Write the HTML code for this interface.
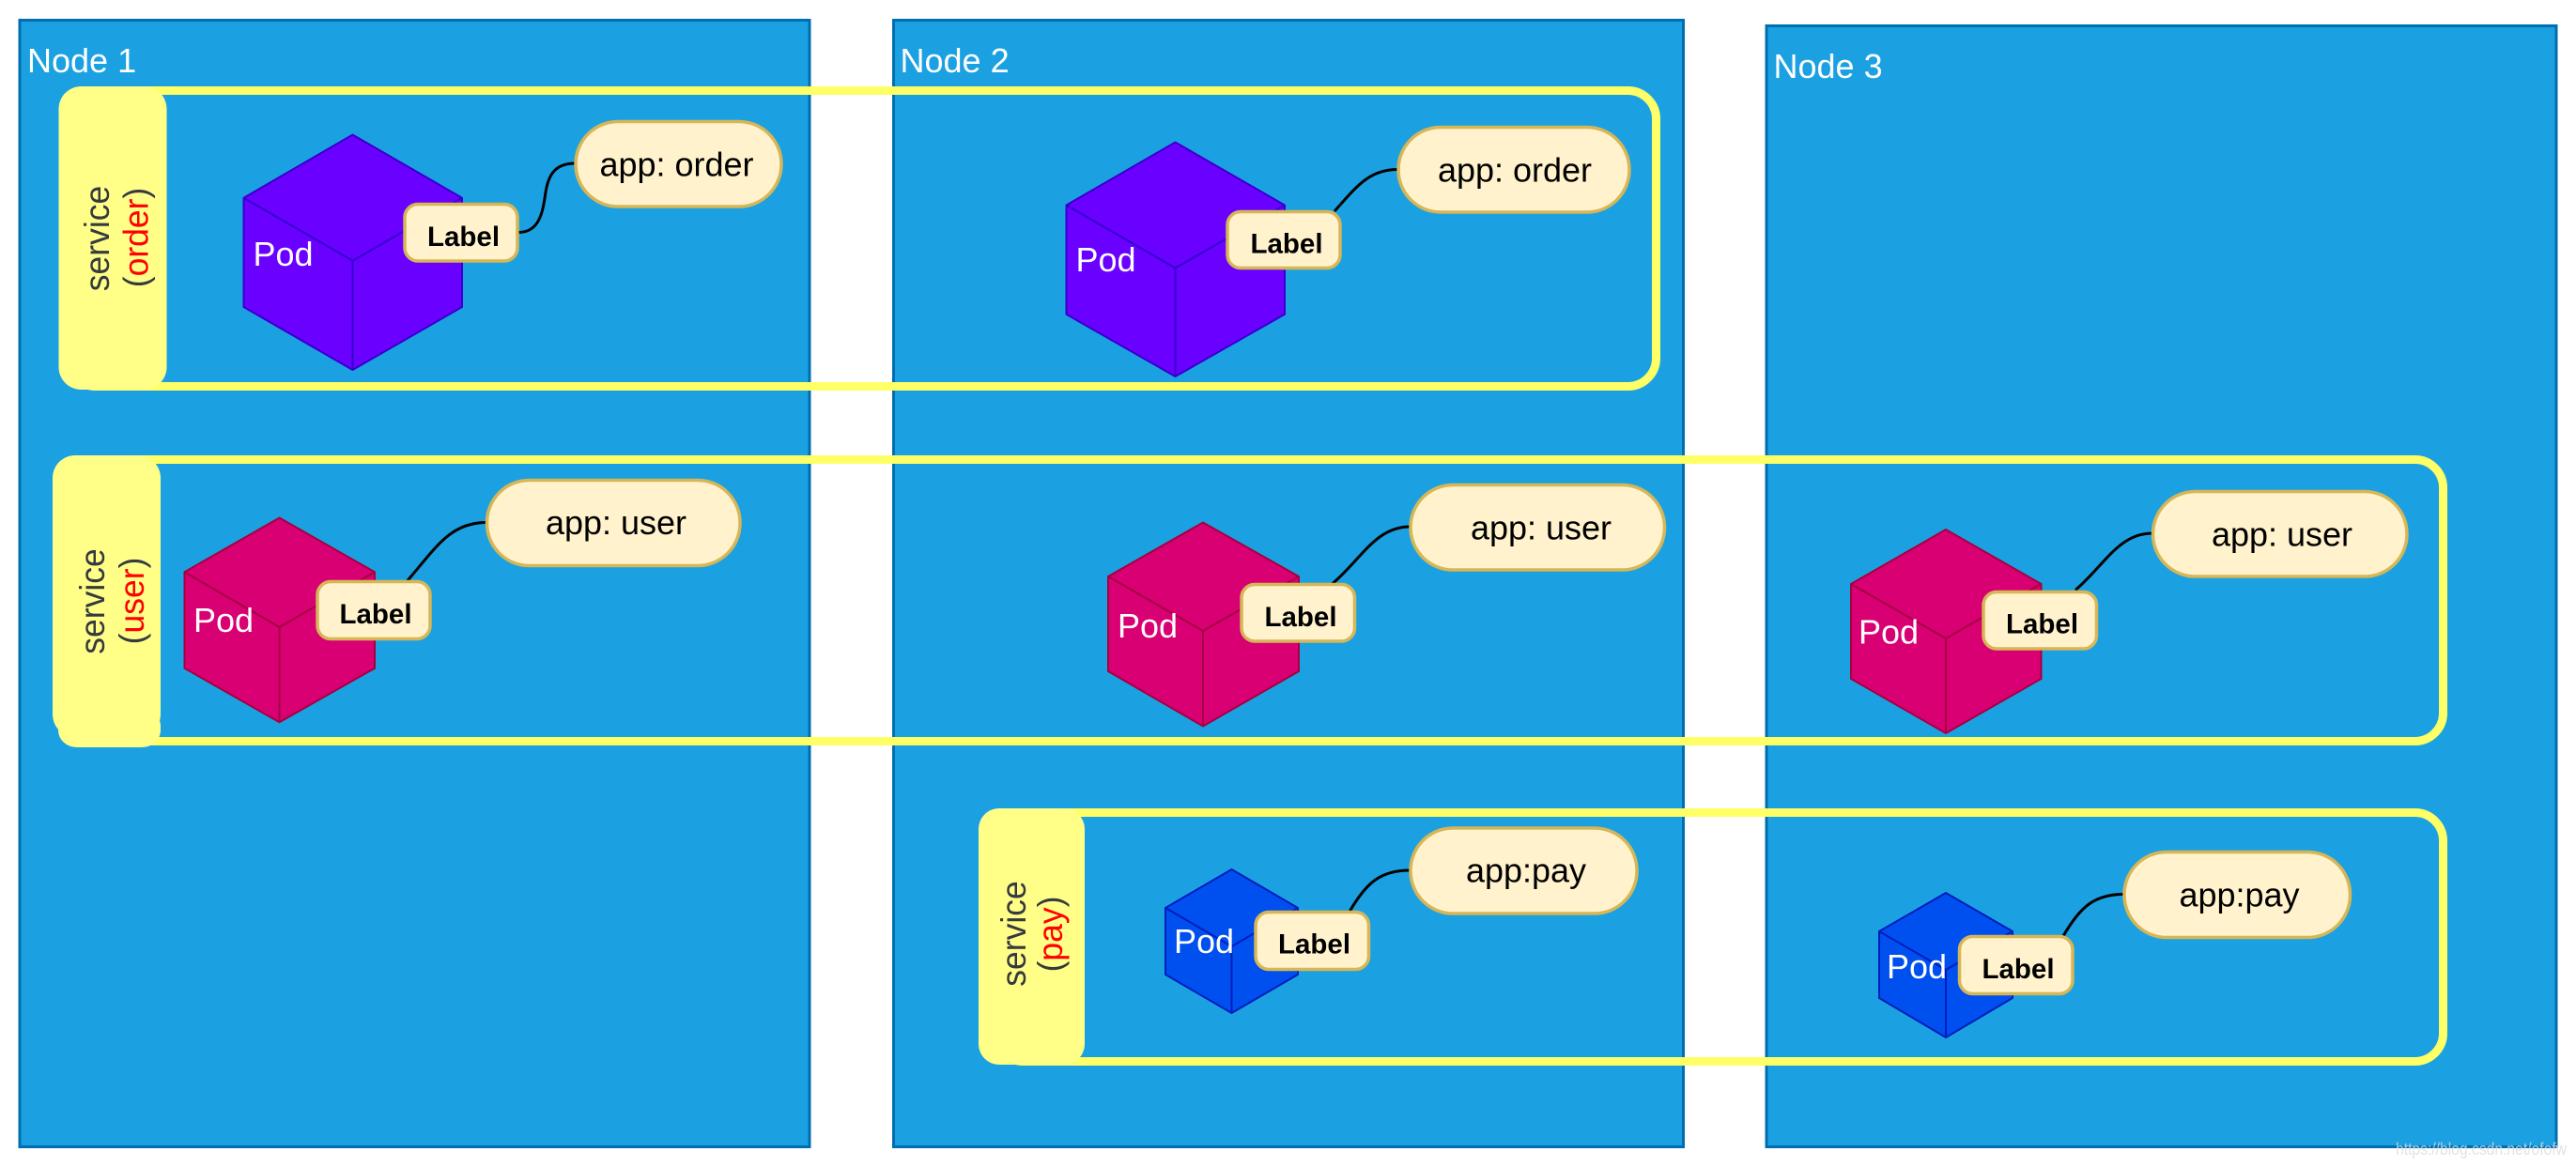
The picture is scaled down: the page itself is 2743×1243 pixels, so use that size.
<!DOCTYPE html>
<html>
<head>
<meta charset="utf-8">
<title>Kubernetes Nodes, Pods, Services</title>
<style>
html,body{margin:0;padding:0;background:#fff;width:2743px;height:1243px;overflow:hidden}
svg{display:block}
text{font-family:"Liberation Sans",Arial,Helvetica,sans-serif}
.node{fill:#1ba1e2;stroke:#006eaf;stroke-width:3}
.nt{fill:#fff;font-size:36px}
.svc{fill:none;stroke:#ffff66;stroke-width:9}
.blk{fill:#ffff88}
.st{fill:#36393d;font-size:35.5px;text-anchor:middle}
.red{fill:#ff0000}
.pod{fill:#fff;font-size:36px}
.lb{fill:#fff2cc;stroke:#d6b656;stroke-width:3.5}
.lt{fill:#000;font-size:29.5px;font-weight:bold;text-anchor:middle}
.pt{fill:#000;font-size:36px;text-anchor:middle}
.con{fill:none;stroke:#000;stroke-width:3}
.c-p{fill:#6a00ff;stroke:#3700cc;stroke-width:2;stroke-linejoin:round}
.c-r{fill:#d80073;stroke:#a50040;stroke-width:2;stroke-linejoin:round}
.c-b{fill:#0050ef;stroke:#001dbc;stroke-width:2;stroke-linejoin:round}
.in{fill:none}
</style>
</head>
<body>
<svg width="2743" height="1243" viewBox="0 0 2743 1243" xmlns="http://www.w3.org/2000/svg">
<rect x="0" y="0" width="2743" height="1243" fill="#fff"/>

<!-- Nodes -->
<rect class="node" x="21" y="21.500" width="841" height="1200"/>
<rect class="node" x="951.500" y="21.500" width="841" height="1200"/>
<rect class="node" x="1881" y="27.500" width="841" height="1194"/>
<text class="nt" x="29" y="77">Node 1</text>
<text class="nt" x="958.500" y="77">Node 2</text>
<text class="nt" x="1888.500" y="83">Node 3</text>

<!-- Service outlines -->
<rect class="svc" x="72" y="96.500" width="1691.500" height="315" rx="30" ry="30"/>
<rect class="svc" x="66" y="489.500" width="2535.500" height="300" rx="30" ry="30"/>
<rect class="svc" x="1060" y="865.500" width="1541.500" height="265" rx="30" ry="30"/>

<!-- Service blocks -->
<rect class="blk" x="62.500" y="92" width="115" height="323" rx="24" ry="24"/>
<rect class="blk" x="56" y="485" width="115" height="300" rx="24" ry="24"/>
<rect class="blk" x="62" y="755" width="109" height="41" rx="20" ry="18"/>
<rect class="blk" x="1042" y="861" width="113" height="273" rx="22" ry="22"/>

<!-- Service text -->
<g transform="translate(116,254) rotate(-90) scale(1,1.05)"><text class="st" x="0" y="0">service</text></g>
<g transform="translate(157.500,253) rotate(-90) scale(1,1.05)"><text class="st" x="0" y="0">(<tspan class="red">order</tspan>)</text></g>
<g transform="translate(111,640.500) rotate(-90) scale(1,1.05)"><text class="st" x="0" y="0">service</text></g>
<g transform="translate(153,640) rotate(-90) scale(1,1.05)"><text class="st" x="0" y="0">(<tspan class="red">user</tspan>)</text></g>
<g transform="translate(1092,994.500) rotate(-90) scale(1,1.05)"><text class="st" x="0" y="0">service</text></g>
<g transform="translate(1131,995) rotate(-90) scale(1,1.05)"><text class="st" x="0" y="0">(<tspan class="red">pay</tspan>)</text></g>

<!-- Cubes -->
<g class="c-p">
<polygon points="375.500,143.500 492,210.700 492,327 375.500,394 259.500,327 259.500,210.700"/>
<path class="in" d="M259.500,210.700 L375.500,277.700 L492,210.700 M375.500,277.700 L375.500,394"/>
</g>
<g class="c-p">
<polygon points="1251.500,151.500 1368,218.500 1368,334.800 1251.500,401 1135.500,334.800 1135.500,218.500"/>
<path class="in" d="M1135.500,218.500 L1251.500,285.500 L1368,218.500 M1251.500,285.500 L1251.500,401"/>
</g>
<g class="c-r">
<polygon points="297.500,551.500 399,609.300 399,711.700 297.500,769.300 196.500,711.700 196.500,609.300"/>
<path class="in" d="M196.500,609.300 L297.500,668 L399,609.300 M297.500,668 L297.500,769.300"/>
</g>
<g class="c-r">
<polygon points="1281,556.500 1383,614 1383,715 1281,773.500 1180,715 1180,614"/>
<path class="in" d="M1180,614 L1281,672 L1383,614 M1281,672 L1281,773.500"/>
</g>
<g class="c-r">
<polygon points="2072,564 2173.500,622 2173.500,723 2072,781 1971,723 1971,622"/>
<path class="in" d="M1971,622 L2072,680 L2173.500,622 M2072,680 L2072,781"/>
</g>
<g class="c-b">
<polygon points="1311.500,926 1382,967 1382,1038 1311.500,1079 1241,1038 1241,967"/>
<path class="in" d="M1241,967 L1311.500,1008 L1382,967 M1311.500,1008 L1311.500,1079"/>
</g>
<g class="c-b">
<polygon points="2072,951 2143,992 2143,1063 2072,1105 2001,1063 2001,992"/>
<path class="in" d="M2001,992 L2072,1033 L2143,992 M2072,1033 L2072,1105"/>
</g>

<!-- Pod text -->
<text class="pod" x="269.500" y="283">Pod</text>
<text class="pod" x="1145.500" y="289">Pod</text>
<text class="pod" x="206" y="673">Pod</text>
<text class="pod" x="1190" y="679">Pod</text>
<text class="pod" x="1979" y="685.500">Pod</text>
<text class="pod" x="1250" y="1015">Pod</text>
<text class="pod" x="2009" y="1042">Pod</text>

<!-- Connectors -->
<path class="con" d="M552,247.500 C575,247.500 578,225 581,205 C584,185 592,174 612.500,174"/>
<path class="con" d="M1421,225 C1445,198 1458,180.500 1488.500,180.500"/>
<path class="con" d="M433.500,619 C465,582 480,556.500 518,556.500"/>
<path class="con" d="M1419,621.500 C1450,595 1465,561 1501.500,561"/>
<path class="con" d="M2210,628.500 C2241,602 2256,568 2292,568"/>
<path class="con" d="M1437,971 C1455,940 1470,927 1501.500,927"/>
<path class="con" d="M2197,997 C2215,966 2230,952.500 2261.500,952.500"/>

<!-- Label boxes -->
<rect class="lb" x="431" y="217.500" width="120" height="60.500" rx="14" ry="14"/>
<text class="lt" x="493.500" y="262">Label</text>
<rect class="lb" x="1307" y="225.500" width="120" height="60" rx="14" ry="14"/>
<text class="lt" x="1370" y="269.500">Label</text>
<rect class="lb" x="338" y="619.500" width="120" height="61" rx="14" ry="14"/>
<text class="lt" x="400" y="664">Label</text>
<rect class="lb" x="1322" y="622.500" width="120.500" height="60.500" rx="14" ry="14"/>
<text class="lt" x="1385" y="667">Label</text>
<rect class="lb" x="2112" y="630.500" width="120.500" height="60.500" rx="14" ry="14"/>
<text class="lt" x="2174.500" y="674.500">Label</text>
<rect class="lb" x="1337" y="971.500" width="120.500" height="61" rx="14" ry="14"/>
<text class="lt" x="1399.500" y="1015.500">Label</text>
<rect class="lb" x="2086.500" y="997.500" width="120.500" height="61" rx="14" ry="14"/>
<text class="lt" x="2149" y="1042">Label</text>

<!-- Pills -->
<rect class="lb" x="613" y="129.500" width="219" height="90.500" rx="45" ry="45"/>
<text class="pt" x="720.500" y="187.500">app: order</text>
<rect class="lb" x="1489" y="135.500" width="246" height="90.500" rx="45" ry="45"/>
<text class="pt" x="1613" y="193.500">app: order</text>
<rect class="lb" x="518.500" y="511.500" width="269.500" height="91" rx="45" ry="45"/>
<text class="pt" x="656" y="569">app: user</text>
<rect class="lb" x="1502" y="516.500" width="270.500" height="90.500" rx="45" ry="45"/>
<text class="pt" x="1641" y="574.500">app: user</text>
<rect class="lb" x="2292.500" y="523.500" width="270.500" height="90.500" rx="45" ry="45"/>
<text class="pt" x="2430" y="581.500">app: user</text>
<rect class="lb" x="1502" y="882" width="241" height="91" rx="45" ry="45"/>
<text class="pt" x="1625" y="939.500">app:pay</text>
<rect class="lb" x="2262" y="907.500" width="240.500" height="91" rx="45" ry="45"/>
<text class="pt" x="2384.500" y="965.500">app:pay</text>

<!-- Watermark -->
<text x="2551" y="1230" font-size="18" fill="#d5dde2" fill-opacity="0.8" textLength="182" lengthAdjust="spacingAndGlyphs">https://blog.csdn.net/ofofw</text>
</svg>
</body>
</html>
